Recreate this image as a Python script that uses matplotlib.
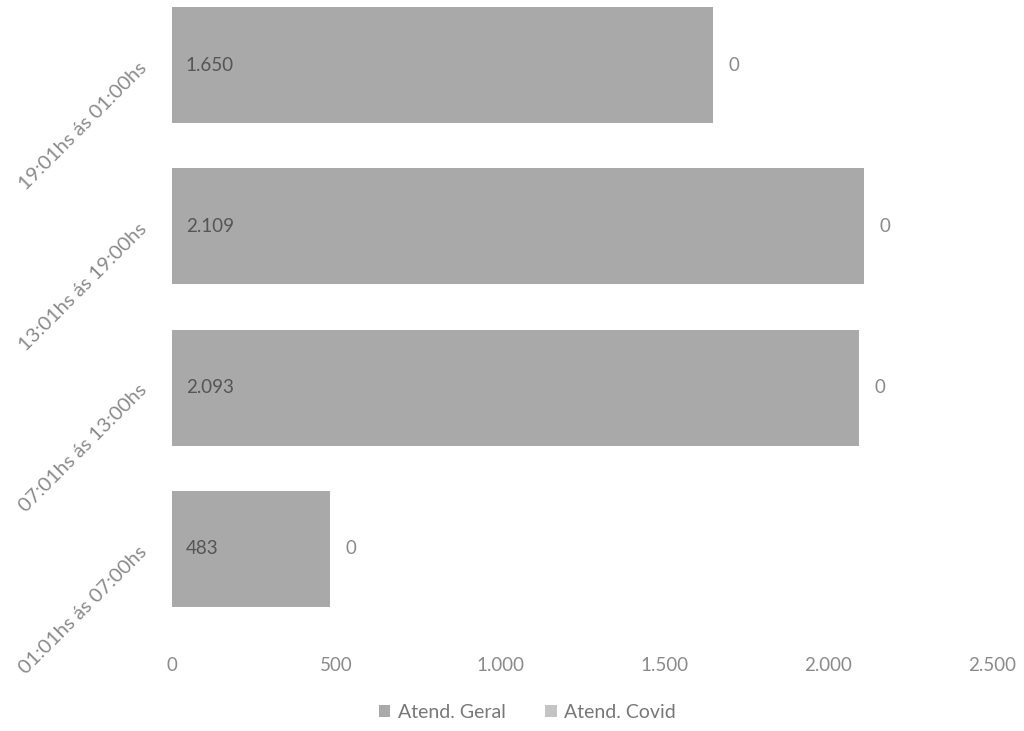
import numpy as np
import matplotlib.pyplot as plt
from matplotlib.ticker import FuncFormatter

# dados (de baixo para cima)
faixas = ['01:01hs ás 07:00hs', '07:01hs ás 13:00hs',
          '13:01hs ás 19:00hs', '19:01hs ás 01:00hs']
geral = [483, 2093, 2109, 1650]
covid = [0, 0, 0, 0]
xticks = [0, 500, 1000, 1500, 2000, 2500]

plt.rcParams['font.family'] = ['Lato', 'DejaVu Sans']

fig = plt.figure(figsize=(10.24, 7.31), dpi=100)
ax = fig.add_axes([0.168, 0.139, 0.801, 0.882])

y = np.arange(len(faixas))
cor_geral = '#a9a9a9'
cor_covid = '#c4c4c4'

ax.barh(y, geral, height=0.72, color=cor_geral, label='Atend. Geral')
ax.barh(y, covid, left=geral, height=0.72, color=cor_covid, label='Atend. Covid')


def fmt(v):
    return f'{int(v):,}'.replace(',', '.')


for yi, g, c in zip(y, geral, covid):
    ax.annotate(fmt(g), (0, yi), xytext=(10, 0), textcoords='offset points',
                va='center', ha='left', fontsize=13.5, color='#555555')
    ax.annotate(fmt(c), (g + c, yi), xytext=(11, 0), textcoords='offset points',
                va='center', ha='left', fontsize=13.5, color='#8a8a8a')

ax.set_xlim(0, 2500)
ax.set_ylim(-0.5, 3.5)
ax.set_xticks(xticks)
ax.xaxis.set_major_formatter(FuncFormatter(lambda v, p: fmt(v)))
ax.set_yticks(y)
ax.set_yticklabels(faixas, rotation=45, ha='right', va='center',
                   rotation_mode='anchor')
ax.tick_params(axis='both', length=0, labelsize=13.5, labelcolor='#8a8a8a')
ax.tick_params(axis='y', labelsize=14.5, pad=20)
ax.tick_params(axis='x', pad=20)
for s in ax.spines.values():
    s.set_visible(False)

fig.legend(loc='lower center', bbox_to_anchor=(0.515, -0.01), ncol=2,
           frameon=False, fontsize=14, labelcolor='#777777',
           handlelength=0.6, handleheight=0.6, handletextpad=0.4,
           columnspacing=2.0)

fig.savefig('out.png', dpi=100, facecolor='white')
